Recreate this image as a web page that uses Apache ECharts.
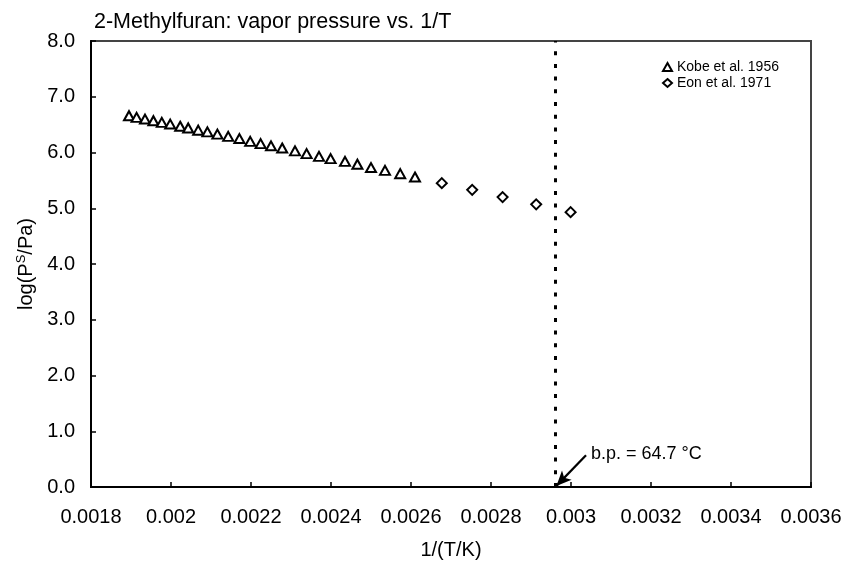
<!DOCTYPE html>
<html>
<head>
<meta charset="utf-8">
<script src="https://cdn.jsdelivr.net/npm/echarts@6/dist/echarts.min.js"></script>
<style>html,body{margin:0;padding:0;background:#fff}#c{width:848px;height:565px}</style>
</head>
<body>
<div id="c"></div>
<script>
// Kobe et al. 1956
const kobeX = [0.001895,0.001914,0.001935,0.001956,0.001977,0.001998,0.002023,0.002043,0.002068,0.002091,0.002116,0.002143,0.002171,0.002198,0.002224,0.00225,0.002278,0.00231,0.002339,0.00237,0.002399,0.002435,0.002466,0.0025,0.002535,0.002573,0.00261];
const kobeY = [6.66,6.63,6.60,6.57,6.54,6.51,6.47,6.44,6.40,6.37,6.33,6.29,6.25,6.20,6.16,6.12,6.08,6.03,5.98,5.93,5.89,5.84,5.79,5.73,5.68,5.62,5.56];
// Eon et al. 1971
const eonX = [0.002677,0.002753,0.002829,0.002913,0.002999];
const eonY = [5.45,5.33,5.20,5.07,4.93];
// boiling point (64.7 °C) -> 1/T
const bpX = 0.00296;
const xTicks = [0.0018,0.002,0.0022,0.0024,0.0026,0.0028,0.003,0.0032,0.0034,0.0036];
const yTicks = [0,1,2,3,4,5,6,7,8];

const FONT = "'Liberation Sans', Arial, sans-serif";
const chart = echarts.init(document.getElementById('c'), null, {renderer:'canvas'});
const zip = (xs, ys) => xs.map((x, i) => [x, ys[i]]);

chart.setOption({
  animation: false,
  backgroundColor: '#fff',
  title: {
    text: '2-Methylfuran: vapor pressure vs. 1/T',
    left: 94, top: 11, padding: 0,
    textStyle: {fontFamily: FONT, fontSize: 21.5, fontWeight: 'normal', color: '#000'}
  },
  legend: {
    orient: 'vertical', left: 657, top: 55,
    itemWidth: 9, itemHeight: 8, itemGap: 2,
    textStyle: {fontFamily: FONT, fontSize: 14, color: '#000'},
    data: ['Kobe et al. 1956', 'Eon et al. 1971']
  },
  grid: {left: 91, right: 37, top: 41, bottom: 76, show: true, borderColor: '#444', borderWidth: 2, containLabel: false},
  xAxis: {
    type: 'value', min: xTicks[0], max: xTicks[xTicks.length-1], interval: 0.0002,
    name: '1/(T/K)', nameLocation: 'middle', nameGap: 53,
    nameTextStyle: {fontFamily: FONT, fontSize: 20, color: '#000'},
    axisLine: {show: true, onZero: false, lineStyle: {color: '#000', width: 2}},
    axisTick: {show: true, inside: true, length: 5, lineStyle: {color: '#000', width: 1.5}},
    axisLabel: {margin: 20, fontFamily: FONT, fontSize: 20, color: '#000',
      formatter: v => { const t = xTicks.find(k => Math.abs(k - v) < 1e-9); return String(t !== undefined ? t : +v.toFixed(4)); }},
    splitLine: {show: false}
  },
  yAxis: {
    type: 'value', min: yTicks[0], max: yTicks[yTicks.length-1], interval: 1,
    name: 'log(P{sup|S}/Pa)', nameLocation: 'middle', nameGap: 53, nameRotate: 90,
    nameTextStyle: {fontFamily: FONT, fontSize: 20, color: '#000',
      rich: {sup: {fontFamily: FONT, fontSize: 13, color: '#000', padding: [0,0,9,0]}}},
    axisLine: {show: true, onZero: false, lineStyle: {color: '#000', width: 2}},
    axisTick: {show: true, inside: true, length: 5, lineStyle: {color: '#000', width: 1.5}},
    axisLabel: {margin: 16, fontFamily: FONT, fontSize: 20, color: '#000', formatter: v => v.toFixed(1)},
    splitLine: {show: false}
  },
  series: [
    {
      name: 'Kobe et al. 1956', type: 'scatter', symbol: 'triangle', symbolSize: [10, 9],
      itemStyle: {color: '#fff', borderColor: '#000', borderWidth: 2, opacity: 1},
      data: zip(kobeX, kobeY),
      markLine: {
        silent: true, symbol: ['none', 'none'], animation: false,
        label: {show: false},
        lineStyle: {color: '#000', width: 3, type: [4, 8.7], opacity: 1},
        data: [[{coord: [bpX, 0]}, {coord: [bpX, 8]}]]
      }
    },
    {
      name: 'Eon et al. 1971', type: 'scatter', symbol: 'diamond', symbolSize: 10,
      itemStyle: {color: '#fff', borderColor: '#000', borderWidth: 2, opacity: 1},
      data: zip(eonX, eonY),
      markLine: {
        silent: true, animation: false, symbol: ['none', 'arrow'], symbolSize: [10, 15],
        label: {show: false},
        lineStyle: {color: '#000', width: 2.2, type: 'solid', opacity: 1},
        data: [[{coord: [0.0030375, 0.571]}, {coord: [0.0029635, 0.02]}]]
      },
      markPoint: {
        silent: true, animation: false, symbol: 'circle', symbolSize: 0,
        label: {show: true, position: 'right', distance: 0, formatter: 'b.p. = 64.7 °C',
          fontFamily: FONT, fontSize: 18, color: '#000'},
        data: [{coord: [0.00305, 0.589]}]
      }
    }
  ]
});
</script>
</body>
</html>
